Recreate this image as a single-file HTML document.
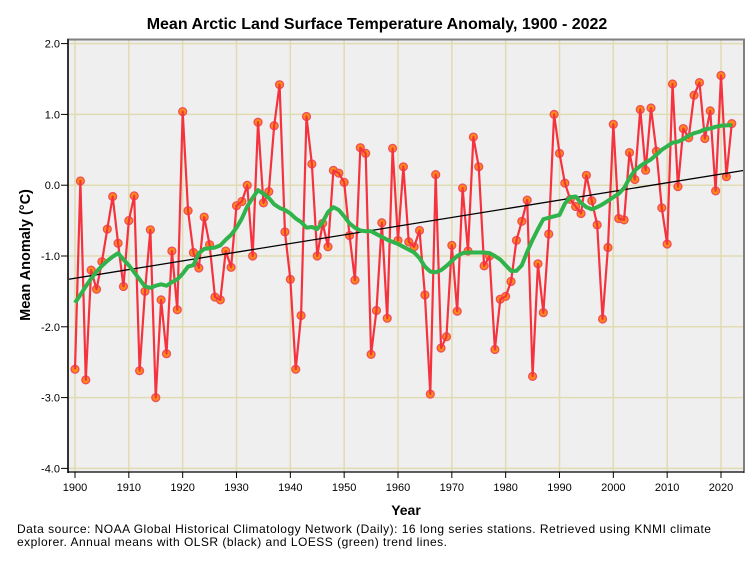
<!DOCTYPE html>
<html lang="en">
<head>
<meta charset="utf-8">
<title>Mean Arctic Land Surface Temperature Anomaly, 1900 - 2022</title>
<style>
html,body{margin:0;padding:0;background:#fff;width:754px;height:564px;overflow:hidden}
svg{display:block;font-family:"Liberation Sans",sans-serif}
</style>
</head>
<body>
<svg id="chart" width="754" height="564" viewBox="0 0 754 564" xmlns="http://www.w3.org/2000/svg">
<rect x="0" y="0" width="754" height="564" fill="#ffffff"/>
<text x="377" y="29" text-anchor="middle" font-size="16" font-weight="bold" fill="#000">Mean Arctic Land Surface Temperature Anomaly, 1900 - 2022</text>
<rect x="68" y="40" width="676" height="432" fill="#efefef"/>
<g id="grid"></g>
<g id="markers"></g>
<path id="anomalyLine" fill="none" stroke="#f5333f" stroke-width="2.2" stroke-linejoin="round"/>
<path id="olsLine" fill="none" stroke="#000" stroke-width="1.3"/>
<path id="loessLine" fill="none" stroke="#2fb34a" stroke-width="4" stroke-linejoin="round" stroke-linecap="butt"/>
<line x1="67" y1="39.5" x2="745" y2="39.5" stroke="#808080" stroke-width="2"/>
<line x1="744" y1="39" x2="744" y2="473" stroke="#808080" stroke-width="2"/>
<line x1="68" y1="39" x2="68" y2="473" stroke="#333" stroke-width="2"/>
<line x1="68" y1="472" x2="744" y2="472" stroke="#000" stroke-width="1.2"/>
<g id="axes"></g>
<text transform="translate(30,255) rotate(-90)" text-anchor="middle" font-size="14.5" font-weight="bold" fill="#000">Mean Anomaly (°C)</text>
<text x="406" y="515" text-anchor="middle" font-size="14" font-weight="bold" fill="#000">Year</text>
<text x="17" y="533" font-size="12" fill="#000" textLength="694" lengthAdjust="spacing">Data source: NOAA Global Historical Climatology Network (Daily): 16 long series stations. Retrieved using KNMI climate</text>
<text x="17" y="546" font-size="12" fill="#000" textLength="430" lengthAdjust="spacing">explorer. Annual means with OLSR (black) and LOESS (green) trend lines.</text>
</svg>
<script>
const firstYear = 1900;
const anomalies = [
-2.6,0.06,-2.75,-1.2,-1.47,-1.08,-0.62,-0.16,-0.82,-1.43,
-0.5,-0.15,-2.62,-1.5,-0.63,-3.0,-1.62,-2.38,-0.93,-1.76,
1.04,-0.36,-0.95,-1.17,-0.45,-0.84,-1.58,-1.62,-0.93,-1.16,
-0.29,-0.23,0.0,-1.0,0.89,-0.25,-0.09,0.84,1.42,-0.66,
-1.33,-2.6,-1.84,0.97,0.3,-1.0,-0.54,-0.87,0.21,0.17,
0.04,-0.71,-1.34,0.53,0.45,-2.39,-1.77,-0.53,-1.88,0.52,
-0.78,0.26,-0.8,-0.87,-0.64,-1.55,-2.95,0.15,-2.3,-2.14,
-0.85,-1.78,-0.04,-0.93,0.68,0.26,-1.14,-1.0,-2.32,-1.61,
-1.57,-1.36,-0.78,-0.51,-0.21,-2.7,-1.11,-1.8,-0.69,1.0,
0.45,0.03,-0.2,-0.3,-0.4,0.14,-0.22,-0.56,-1.89,-0.88,
0.86,-0.47,-0.49,0.46,0.08,1.07,0.21,1.09,0.48,-0.32,
-0.83,1.43,-0.02,0.8,0.67,1.27,1.45,0.66,1.05,-0.08,
1.55,0.12,0.87
];
const loess = [
-1.66,-1.55,-1.43,-1.32,-1.22,-1.14,-1.07,-1.01,-0.96,-1.05,
-1.13,-1.23,-1.33,-1.43,-1.45,-1.42,-1.40,-1.42,-1.37,-1.33,
-1.25,-1.15,-1.13,-0.96,-0.90,-0.89,-0.88,-0.85,-0.77,-0.70,
-0.60,-0.47,-0.30,-0.18,-0.07,-0.12,-0.18,-0.27,-0.32,-0.35,
-0.40,-0.47,-0.52,-0.60,-0.59,-0.62,-0.52,-0.38,-0.31,-0.35,
-0.44,-0.54,-0.60,-0.64,-0.65,-0.65,-0.69,-0.73,-0.77,-0.80,
-0.83,-0.87,-0.91,-0.95,-1.03,-1.15,-1.22,-1.23,-1.20,-1.14,
-1.07,-1.00,-0.96,-0.95,-0.95,-0.95,-0.95,-0.96,-1.00,-1.05,
-1.13,-1.21,-1.21,-1.13,-0.94,-0.77,-0.62,-0.48,-0.46,-0.44,
-0.42,-0.26,-0.17,-0.16,-0.25,-0.31,-0.34,-0.31,-0.27,-0.22,
-0.17,-0.12,-0.04,0.10,0.21,0.27,0.32,0.365,0.43,0.50,
0.55,0.60,0.615,0.65,0.70,0.735,0.755,0.79,0.80,0.825,
0.84,0.845,0.85
];
const olsYears = [1898.7,2024.3];
const olsValues = [-1.33,0.21];
const yTicks = [2,1,0,-1,-2,-3,-4];
const yTickLabels = ["2.0","1.0","0.0","-1.0","-2.0","-3.0","-4.0"];
const xTicks = [1900,1910,1920,1930,1940,1950,1960,1970,1980,1990,2000,2010,2020];

const NS = 'http://www.w3.org/2000/svg';
function xScale(year){ return 75 + (year - 1900) * 5.3833; }
function yScale(v){ return 185.2 - v * 70.8; }
function make(tag, attrs, parent){
  const el = document.createElementNS(NS, tag);
  for (const k in attrs) el.setAttribute(k, attrs[k]);
  parent.appendChild(el);
  return el;
}
function pathFrom(xs, ys){
  return ys.map((v,i)=>(i?'L':'M')+xScale(xs[i]).toFixed(2)+' '+yScale(v).toFixed(2)).join(' ');
}
const grid = document.getElementById('grid');
const axes = document.getElementById('axes');
const gridColor = '#e0dbb2';

xTicks.forEach(function(t){
  const gl = make('line',{x1:xScale(t),x2:xScale(t),y1:40,y2:472,stroke:gridColor,'stroke-width':1.5},grid);
  
  
  const tk = make('line',{x1:xScale(t),x2:xScale(t),y1:472,y2:478,stroke:'#000','stroke-width':1},axes);
  
  
  const lb = make('text',{x:xScale(t),y:491,'text-anchor':'middle','font-size':11,fill:'#000'},axes);
  lb.textContent = String(t);
  
  
});
yTicks.forEach(function(t,i){
  const gl = make('line',{x1:68,x2:744,y1:yScale(t),y2:yScale(t),stroke:gridColor,'stroke-width':1.5},grid);
  
  
  const tk = make('line',{x1:61,x2:68,y1:yScale(t),y2:yScale(t),stroke:'#000','stroke-width':1},axes);
  
  
  const lb = make('text',{x:60,y:yScale(t)+4,'text-anchor':'end','font-size':11,fill:'#000'},axes);
  lb.textContent = yTickLabels[i];
  
  
});

const years = anomalies.map((_,i)=>firstYear+i);
const markers = document.getElementById('markers');
anomalies.forEach(function(v,i){
  const c = make('circle',{cx:xScale(years[i]),cy:yScale(v),r:3.9,fill:'#ff8c12',stroke:'#f0505a','stroke-width':1.4},markers);
  
  
});
document.getElementById('anomalyLine').setAttribute('d', pathFrom(years, anomalies));
document.getElementById('olsLine').setAttribute('d', pathFrom(olsYears, olsValues));
document.getElementById('loessLine').setAttribute('d', pathFrom(loess.map((_,i)=>firstYear+i), loess));
</script>
</body>
</html>
